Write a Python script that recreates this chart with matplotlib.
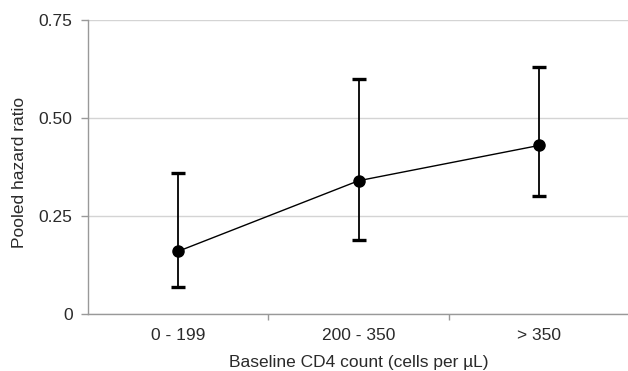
import matplotlib
matplotlib.use('Agg')
import matplotlib.pyplot as plt
from matplotlib.ticker import FixedLocator

# ===== DATA =====
categories = ['0 - 199', '200 - 350', '> 350']
hazard_ratio = [0.16, 0.34, 0.43]
ci_lower = [0.07, 0.19, 0.30]
ci_upper = [0.36, 0.60, 0.63]
y_ticks = [0, 0.25, 0.50, 0.75]
y_tick_labels = ['0', '0.25', '0.50', '0.75']

plt.rcParams['font.family'] = ['Liberation Sans', 'DejaVu Sans']
FS = 12.5
TXT = '#2a2a2a'

fig = plt.figure(figsize=(6.28, 3.71), dpi=100)
ax = fig.add_axes([0.140, 0.1536, 0.862, 0.7925])

x = list(range(len(categories)))
err_low = [h - l for h, l in zip(hazard_ratio, ci_lower)]
err_high = [u - h for h, u in zip(hazard_ratio, ci_upper)]

ax.errorbar(x, hazard_ratio, yerr=[err_low, err_high], fmt='o-', color='black',
            markersize=8, linewidth=1.0, elinewidth=1.3, capsize=5, capthick=2.4,
            zorder=3)

ax.set_xlim(-0.5, len(categories) - 0.5)
ax.set_ylim(0, 0.75)
ax.set_yticks(y_ticks)
ax.set_yticklabels(y_tick_labels, fontsize=FS, color=TXT)
ax.set_xticks(x)
ax.set_xticklabels(categories, fontsize=FS, color=TXT)
ax.tick_params(axis='x', which='major', length=0, pad=10)
ax.xaxis.set_minor_locator(FixedLocator([0.5, 1.5, 2.5]))
ax.tick_params(axis='x', which='minor', length=4, color='#999999', width=1)
ax.tick_params(axis='y', length=5, color='#999999', width=1, pad=6)

ax.yaxis.grid(True, color='#d4d4d4', linewidth=1)
ax.set_axisbelow(True)
for side in ['top', 'right']:
    ax.spines[side].set_visible(False)
for side in ['left', 'bottom']:
    ax.spines[side].set_color('#999999')
    ax.spines[side].set_linewidth(1)

ax.set_xlabel('Baseline CD4 count (cells per \u00b5L)', fontsize=FS, color=TXT, labelpad=9)
ax.set_ylabel('Pooled hazard ratio', fontsize=FS, color=TXT, labelpad=5)
ax.yaxis.set_label_coords(-0.113, 0.483)

plt.savefig('out.png', dpi=100)
